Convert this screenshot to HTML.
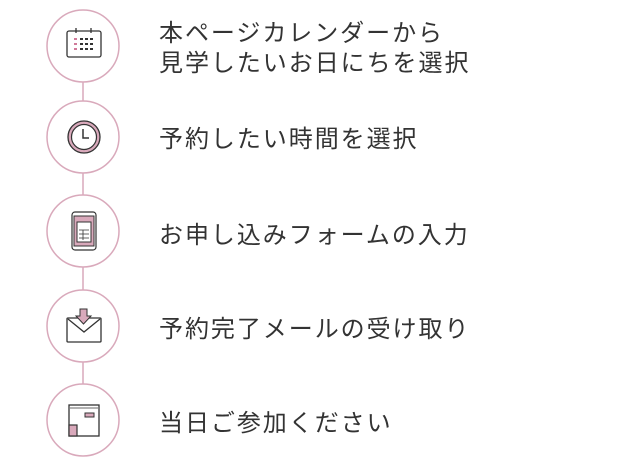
<!DOCTYPE html><html><head><meta charset="utf-8"><style>
body{margin:0;width:620px;height:465px;background:#fff;overflow:hidden;position:relative;font-family:"Liberation Sans","Noto Sans CJK JP",sans-serif;color:#333}
.t{position:absolute;left:159px;font-size:24px;letter-spacing:1.95px;line-height:30px;white-space:nowrap}
svg{position:absolute;left:0;top:0}
</style></head><body>
<svg width="620" height="465" viewBox="0 0 620 465">
<g stroke="#d9a9bb" stroke-width="1.5" fill="#fff">
<line x1="83" y1="82" x2="83" y2="101"/><line x1="83" y1="173" x2="83" y2="195"/><line x1="83" y1="267" x2="83" y2="290"/><line x1="83" y1="362" x2="83" y2="384"/>
<circle cx="83" cy="46" r="36"/><circle cx="83" cy="137" r="36"/><circle cx="83" cy="231" r="36"/><circle cx="83" cy="326" r="36"/><circle cx="83" cy="420" r="36"/>
</g>
<g stroke="#333" stroke-width="1.3" fill="none">
<rect x="67" y="31" width="34" height="26" rx="2"/>
<line x1="76" y1="28" x2="76" y2="33"/><line x1="91" y1="28" x2="91" y2="33"/>
</g>
<g fill="#333"><rect x="80" y="38" width="3" height="2"/><rect x="85" y="38" width="3" height="2"/><rect x="90" y="38" width="3" height="2"/><rect x="80" y="43" width="3" height="2"/><rect x="85" y="43" width="3" height="2"/><rect x="90" y="43" width="3" height="2"/><rect x="80" y="48" width="3" height="2"/><rect x="85" y="48" width="3" height="2"/><rect x="90" y="48" width="3" height="2"/></g>
<g fill="#d07a9a"><rect x="74" y="38" width="3" height="2"/><rect x="74" y="43" width="3" height="2"/><rect x="74" y="48" width="3" height="2"/></g>
<circle cx="84" cy="137" r="16" fill="#d9a9bb" stroke="#333" stroke-width="1.3"/>
<circle cx="84" cy="137" r="12.5" fill="#fff" stroke="#333" stroke-width="1.2"/>
<path d="M83 129v9h6" stroke="#333" stroke-width="1.5" fill="none"/>
<rect x="72" y="212" width="24" height="38" rx="3" fill="#fff" stroke="#333" stroke-width="1.2"/>
<rect x="74" y="216" width="20" height="30" fill="#d9a9bb" stroke="#333" stroke-width="1"/>
<rect x="77" y="222" width="14" height="20" fill="#fff" stroke="#333" stroke-width="1"/>
<path d="M79 230h10M79 234h10M79 238h10M83 230v10" stroke="#333" stroke-width="0.8"/>
<rect x="67" y="318" width="34" height="24" rx="1" fill="#fff" stroke="#333" stroke-width="1.3"/>
<path d="M68 319l16 13 16-13" fill="none" stroke="#333" stroke-width="1.3"/>
<path d="M80 309h7v7h4l-7.5 8-7.5-8h4z" fill="#d9a9bb" stroke="#333" stroke-width="1"/>
<rect x="69" y="405" width="30" height="31" fill="#fff" stroke="#333" stroke-width="1.3"/>
<line x1="70" y1="408" x2="98" y2="408" stroke="#333" stroke-width="0.8"/>
<rect x="85" y="413" width="9" height="4" fill="#d9a9bb" stroke="#333" stroke-width="1"/>
<rect x="69" y="425" width="8" height="11" fill="#d9a9bb" stroke="#333" stroke-width="1.2"/>
</svg>
<div class="t" style="top:19px">本ページカレンダーから<br>見学したいお日にちを選択</div>
<div class="t" style="top:125px">予約したい時間を選択</div>
<div class="t" style="top:221px">お申し込みフォームの入力</div>
<div class="t" style="top:315px">予約完了メールの受け取り</div>
<div class="t" style="top:409px">当日ご参加ください</div>
</body></html>
